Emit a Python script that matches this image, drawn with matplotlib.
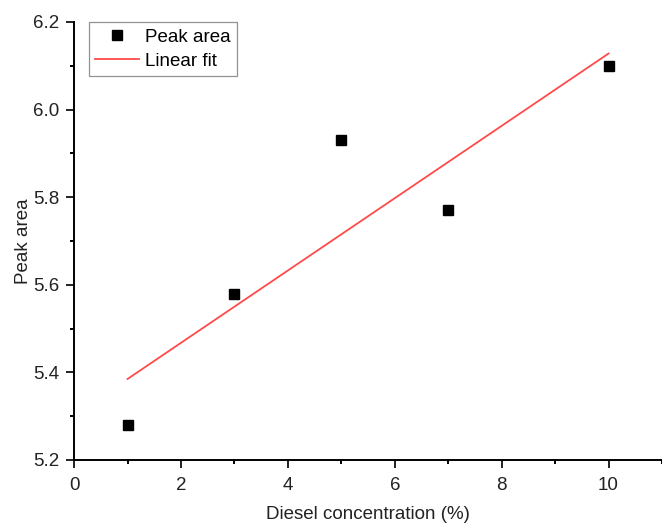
import matplotlib
matplotlib.use("Agg")
import matplotlib.pyplot as plt
from matplotlib.ticker import MultipleLocator

# data
conc      = [1, 3, 5, 7, 10]
peak_area = [5.28, 5.58, 5.93, 5.77, 6.10]

# linear fit endpoints
fit_x = [1, 10]
fit_y = [5.385, 6.128]

plt.rcParams["font.family"] = ["Liberation Sans", "DejaVu Sans"]

fig = plt.figure(figsize=(6.62, 5.26), dpi=100)
ax = fig.add_axes([0.112, 0.1255, 0.888, 0.8327])

ax.plot(conc, peak_area, "s", color="black", markersize=6.5, label="Peak area")
ax.plot(fit_x, fit_y, color="#ff4a4a", linewidth=1.3, label="Linear fit")

ax.set_xlim(0, 11)
ax.set_ylim(5.2, 6.2)
ax.xaxis.set_major_locator(MultipleLocator(2))
ax.xaxis.set_minor_locator(MultipleLocator(1))
ax.yaxis.set_major_locator(MultipleLocator(0.2))
ax.yaxis.set_minor_locator(MultipleLocator(0.1))
ax.yaxis.set_major_formatter(plt.FormatStrFormatter("%.1f"))

for side in ("top", "right"):
    ax.spines[side].set_visible(False)
for side in ("left", "bottom"):
    ax.spines[side].set_linewidth(1.4)

ax.tick_params(which="major", direction="out", length=6, width=1.4,
               labelsize=13.5, colors="#222222")
ax.tick_params(axis="x", which="major", pad=6)
ax.tick_params(axis="y", which="major", pad=4.5)
ax.tick_params(which="minor", direction="out", length=3, width=1.4)

ax.set_xlabel("Diesel concentration (%)", fontsize=13.5, color="#222222",
              labelpad=9)
ax.set_ylabel("Peak area", fontsize=13.5, color="#222222", labelpad=1)

leg = ax.legend(loc="upper left", bbox_to_anchor=(0.025, 1.0), fontsize=13.5,
                frameon=True, fancybox=False, edgecolor="#777777",
                handlelength=2.35, borderpad=0.35, labelspacing=0.38,
                handletextpad=0.3, borderaxespad=0)
leg.get_frame().set_linewidth(0.9)

fig.savefig("out.png", dpi=100)
